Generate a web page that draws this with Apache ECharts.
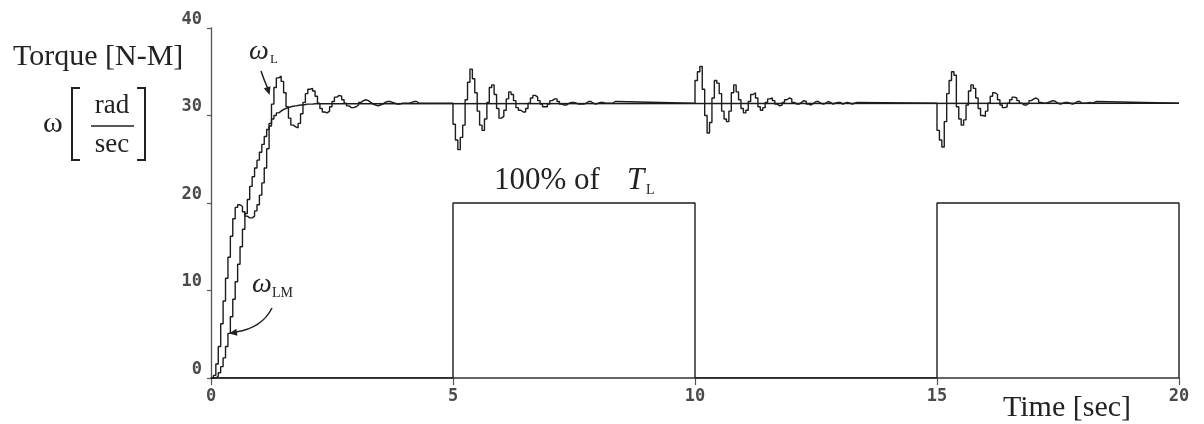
<!DOCTYPE html>
<html><head><meta charset="utf-8">
<script src="https://cdn.jsdelivr.net/npm/echarts@6/dist/echarts.min.js"></script>
<style>html,body{margin:0;background:#fff}#c{width:1204px;height:424px}</style>
</head><body><div id="c"></div>
<script>
// sample spacing of the read-off values [sec]
const dt = 0.05;
// omega_L, t = 0 .. 4.30
const wLRise = [0,0.3,1.6,3.6,6.2,8.8,11.4,13.8,16.2,18.2,19.5,19.8,19.6,19.0,18.5,18.3,18.3,18.5,19.1,19.8,
  20.9,22.3,24.0,26.2,28.8,31.3,33.2,34.3,34.5,33.9,32.6,31.0,29.7,28.9,28.7,28.6,29.1,30.2,31.5,32.5,
  33.0,33.1,32.8,32.2,31.4,30.8,30.4,30.3,30.5,31.0,31.6,32.1,32.3,32.2,31.8,31.4,31.1,30.9,30.9,31.0,
  31.2,31.5,31.7,31.8,31.7,31.5,31.3,31.2,31.1,31.2,31.3,31.5,31.6,31.6,31.5,31.4,31.3,31.3,31.4,31.4,
  31.4,31.4,31.5,31.6,31.6,31.4,31.4];
// omega_LM, t = 0 .. 2.20
const wLMRise = [0,0,0.2,0.6,1.3,2.3,3.6,5.1,7.0,9.0,11.0,13.0,15.0,17.0,18.8,20.4,21.9,23.0,24.0,24.9,
  25.8,26.7,27.6,28.4,29.1,29.6,30.0,30.3,30.5,30.7,30.8,30.9,31.0,31.05,31.1,31.15,31.2,31.2,31.25,31.3,
  31.3,31.3,31.35,31.35,31.4];
// omega_L after load step at 5 s (from t = 4.95)
const wLDist5 = [31.4,29.0,27.2,26.1,27.5,28.9,31.8,33.8,35.3,34.2,32.6,30.5,28.9,28.3,29.6,31.5,33.2,33.5,32.4,30.8,
  29.7,29.9,30.6,31.9,32.7,32.4,31.7,30.9,30.6,30.4,30.4,30.8,31.4,32.0,32.3,32.1,31.7,31.3,31.0,31.0,
  31.3,31.7,31.9,31.9,31.6,31.3,31.2,31.2,31.4,31.5,31.5,31.4,31.3,31.3,31.3,31.4,31.6,31.6,31.4,31.3,
  31.4,31.5,31.5,31.4,31.4,31.4,31.4,31.6,31.6,31.4];
// omega_L after load removal at 10 s (from t = 9.95)
const wLDist10 = [31.4,34.0,35.0,35.6,33.0,30.0,28.0,29.2,32.0,34.0,33.7,32.5,30.5,29.6,29.3,30.5,32.6,33.5,32.7,31.8,
  30.8,30.3,30.6,31.6,32.4,32.6,32.0,31.0,30.6,30.9,31.5,31.9,32.0,31.7,31.3,31.1,31.2,31.5,31.8,32.0,
  31.9,31.5,31.3,31.3,31.5,31.7,31.6,31.3,31.2,31.4,31.6,31.6,31.4,31.3,31.4,31.6,31.5,31.3,31.4,31.5,
  31.5,31.3,31.4,31.5,31.4,31.3,31.4,31.5,31.4];
// omega_L after load step at 15 s (from t = 14.95)
const wLDist15 = [31.4,28.3,27.2,26.4,29.3,32.5,34.0,35.0,34.6,31.0,29.6,28.9,29.5,31.2,32.8,33.5,33.1,32.0,30.8,30.0,
  29.9,30.5,31.4,32.2,32.6,32.4,31.8,31.2,30.9,31.0,31.4,31.8,32.1,32.0,31.7,31.4,31.2,31.2,31.4,31.7,
  31.9,32.0,31.8,31.5,31.4,31.4,31.5,31.6,31.7,31.6,31.4,31.3,31.4,31.5,31.5,31.4,31.3,31.4,31.6,31.6,
  31.4,31.4,31.4,31.5,31.4,31.5,31.6,31.4];
const segStarts = [0, 4.95, 9.95, 14.95];
const steadySpeed = 31.4;
const tEnd = 20;
const torqueTimes  = [0, 5, 5, 10, 10, 15, 15, 20, 20];
const torqueValues = [0, 0, 20, 20, 0, 0, 20, 20, 0];
const xTickLabels = ['0','5','10','15','20'];
const yTickLabels = ['0','10','20','30','40'];

function seg(t0, vals){ return vals.map((v,i)=>[+(t0 + i*dt).toFixed(3), v]); }
const wLData = [].concat(seg(segStarts[0], wLRise), seg(segStarts[1], wLDist5),
  seg(segStarts[2], wLDist10), seg(segStarts[3], wLDist15), [[tEnd, steadySpeed]]);
const wLMData = seg(0, wLMRise).concat([[tEnd, steadySpeed]]);
const torqueData = torqueTimes.map((t,i)=>[t, torqueValues[i]]);

const INK = '#1c1c1c';
const serif = "'Liberation Serif','DejaVu Serif',serif";
const tickFont = {fontFamily:"'DejaVu Sans Mono',monospace", fontWeight:'bold', fontSize:17, color:'#4a4a4a'};

const chart = echarts.init(document.getElementById('c'), null, {renderer:'canvas'});
function txt(x,y,s,size,extra){ return Object.assign({type:'text', x, y, style:Object.assign({text:s, fontFamily:serif, fontSize:size, fill:'#222', verticalAlign:'middle'}, extra||{})}); }
function head(tx,ty,dx,dy){ const L=Math.hypot(dx,dy); dx/=L; dy/=L; const bx=tx-8*dx, by=ty-8*dy;
  return {type:'polygon', shape:{points:[[tx,ty],[bx+3.5*dy,by-3.5*dx],[bx-3.5*dy,by+3.5*dx]]}, style:{fill:'#222'}}; }

chart.setOption({
  animation:false,
  backgroundColor:'#fff',
  grid:{left:211, right:25, top:28, bottom:46},
  xAxis:{type:'value', min:0, max:20, interval:5,
    axisLine:{show:true, onZero:false, lineStyle:{color:'#333', width:1.5}},
    axisTick:{show:true, length:7, lineStyle:{color:'#555', width:1.2}},
    axisLabel:Object.assign({margin:10, formatter:(v)=>xTickLabels[v/5]}, tickFont),
    splitLine:{show:false}},
  yAxis:{type:'value', min:0, max:40, interval:10,
    axisLine:{show:true, lineStyle:{color:'#555', width:1.3}},
    axisTick:{show:true, length:4, lineStyle:{color:'#555', width:1.2}},
    axisLabel:Object.assign({margin:9, verticalAlign:'bottom', formatter:(v)=>yTickLabels[v/10]}, tickFont),
    splitLine:{show:false}},
  series:[
    {name:'ωLM', type:'line', step:'end', data:wLMData, symbol:'none', lineStyle:{color:INK, width:1.4}},
    {name:'ωL', type:'line', step:'end', data:wLData, symbol:'none', lineStyle:{color:INK, width:1.4}},
    {name:'TL', type:'line', data:torqueData, symbol:'none', lineStyle:{color:INK, width:1.4}}
  ],
  graphic:[
    txt(13, 57, 'Torque [N-M]', 30),
    txt(43, 124, 'ω', 30),
    {type:'polyline', shape:{points:[[80,88],[72,88],[72,160],[80,160]]}, style:{stroke:'#222', lineWidth:2, fill:null}},
    {type:'polyline', shape:{points:[[137,88],[145,88],[145,160],[137,160]]}, style:{stroke:'#222', lineWidth:2, fill:null}},
    txt(112, 106, 'rad', 27, {align:'center'}),
    {type:'line', shape:{x1:91, y1:126, x2:134, y2:126}, style:{stroke:'#222', lineWidth:1.5}},
    txt(112, 145, 'sec', 27, {align:'center'}),
    txt(249, 52, 'ω', 28, {fontStyle:'italic'}),
    txt(270, 60, 'L', 13),
    {type:'bezierCurve', shape:{x1:261, y1:71, cpx1:264, cpy1:80, x2:268, y2:89}, style:{stroke:'#222', lineWidth:1.5, fill:null}},
    head(269.5, 95, 0.3, 1),
    txt(252, 285, 'ω', 28, {fontStyle:'italic'}),
    txt(272, 293, 'LM', 14),
    {type:'bezierCurve', shape:{x1:272, y1:308, cpx1:262, cpy1:328, x2:236, y2:332}, style:{stroke:'#222', lineWidth:1.5, fill:null}},
    head(229, 333.5, -1, 0.16),
    txt(494, 181, '100% of', 31),
    txt(627, 181, 'T', 31, {fontStyle:'italic'}),
    txt(646, 190, 'L', 14),
    txt(1003, 408, 'Time [sec]', 30)
  ]
});
</script></body></html>
